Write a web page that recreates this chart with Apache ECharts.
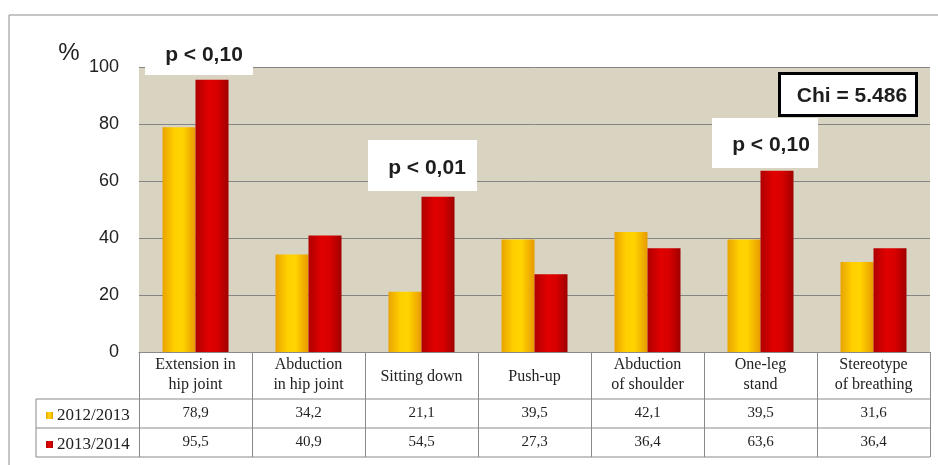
<!DOCTYPE html>
<html>
<head>
<meta charset="utf-8">
<script src="https://cdn.jsdelivr.net/npm/echarts@6/dist/echarts.min.js"></script>
<style>
html,body{margin:0;padding:0;background:#fff;}
#main{width:938px;height:465px;}
</style>
</head>
<body>
<div id="main"></div>
<script>
var categories = ['Extension in\nhip joint', 'Abduction\nin hip joint', 'Sitting down', 'Push-up', 'Abduction\nof shoulder', 'One-leg\nstand', 'Stereotype\nof breathing'];
var series2012 = [78.9, 34.2, 21.1, 39.5, 42.1, 39.5, 31.6];
var series2013 = [95.5, 40.9, 54.5, 27.3, 36.4, 63.6, 36.4];
var seriesNames = ['2012/2013', '2013/2014'];
var yTicks = [0, 20, 40, 60, 80, 100];

var GL = 139, GR = 8, GT = 67, GB = 113;
var W = 938, H = 465;
var tableTop = H - GB;
var rowY = [tableTop + 47, tableTop + 76, tableTop + 105];
var tableLeft = 36, tableRight = W - GR;

function fmtNum(v) { return v.toFixed(1).replace('.', ','); }

var chart = echarts.init(document.getElementById('main'), null, {renderer: 'canvas'});

var yellowGrad = new echarts.graphic.LinearGradient(0, 0, 1, 0, [
  {offset: 0, color: '#e9a300'},
  {offset: 0.35, color: '#ffcf00'},
  {offset: 0.6, color: '#ffd400'},
  {offset: 1, color: '#e89a00'}
]);
var redGrad = new echarts.graphic.LinearGradient(0, 0, 1, 0, [
  {offset: 0, color: '#b00000'},
  {offset: 0.4, color: '#e10000'},
  {offset: 0.65, color: '#d80000'},
  {offset: 1, color: '#a00000'}
]);

var serif = '"Liberation Serif", "DejaVu Serif", serif';
var sans = '"Liberation Sans", Arial, sans-serif';

var option = {
  animation: false,
  backgroundColor: '#ffffff',
  grid: {left: GL, right: GR, top: GT, bottom: GB, show: true, backgroundColor: '#d9d4c2', borderWidth: 0},
  legend: {
    orient: 'vertical',
    left: 41, top: tableTop + 50,
    itemWidth: 7, itemHeight: 7, itemGap: 12,
    icon: 'rect',
    textStyle: {fontFamily: serif, fontSize: 17, color: '#222', lineHeight: 17, padding: [0,0,0,-1]},
    data: seriesNames
  },
  xAxis: {
    type: 'category',
    data: categories,
    axisLine: {show: true, lineStyle: {color: '#8a8a8a', width: 1}},
    axisTick: {show: true, alignWithLabel: false, length: rowY[2] - tableTop, interval: 0, lineStyle: {color: '#8a8a8a'}},
    axisLabel: {
      interval: 0, margin: 3, color: '#222', fontFamily: serif,
      formatter: function (val, idx) {
        var lines = val.split('\n');
        var head;
        if (lines.length === 2) head = '{h|' + lines[0] + '}\n{h|' + lines[1] + '}\n{s| }';
        else head = '{h2|' + lines[0] + '}';
        return head + '\n{v|' + fmtNum(series2012[idx]) + '}\n{v|' + fmtNum(series2013[idx]) + '}';
      },
      rich: {
        h: {fontFamily: serif, fontSize: 16, lineHeight: 20, color: '#222'},
        s: {fontSize: 4, lineHeight: 4},
        h2: {fontFamily: serif, fontSize: 16, lineHeight: 44, color: '#222'},
        v: {fontFamily: serif, fontSize: 15, lineHeight: 29, color: '#222'}
      }
    }
  },
  yAxis: {
    type: 'value', min: 0, max: 100, interval: 20,
    axisLine: {show: false}, axisTick: {show: false},
    axisLabel: {margin: 20, fontFamily: sans, fontSize: 18, color: '#222',
      formatter: function (v) { return yTicks.indexOf(v) >= 0 ? String(v) : ''; }},
    splitLine: {show: true, lineStyle: {color: '#858585', width: 1}}
  },
  series: [
    {name: seriesNames[0], type: 'bar', data: series2012, barWidth: 33, barGap: '0%',
     itemStyle: {color: yellowGrad}},
    {name: seriesNames[1], type: 'bar', data: series2013, barWidth: 33, barGap: '0%',
     itemStyle: {color: redGrad}}
  ],
  graphic: [
    {type: 'rect', shape: {x: 9, y: 15, width: 960, height: 480}, style: {fill: 'none', stroke: '#8c8c8c', lineWidth: 1}, z: 0, silent: true},
    {type: 'line', shape: {x1: tableLeft, y1: rowY[0], x2: tableRight, y2: rowY[0]}, style: {stroke: '#8a8a8a', lineWidth: 1}},
    {type: 'line', shape: {x1: tableLeft, y1: rowY[1], x2: tableRight, y2: rowY[1]}, style: {stroke: '#8a8a8a', lineWidth: 1}},
    {type: 'line', shape: {x1: tableLeft, y1: rowY[2], x2: tableRight, y2: rowY[2]}, style: {stroke: '#8a8a8a', lineWidth: 1}},
    {type: 'line', shape: {x1: tableLeft, y1: rowY[0], x2: tableLeft, y2: rowY[2]}, style: {stroke: '#8a8a8a', lineWidth: 1}},
    {type: 'text', x: 69, y: 53, style: {text: '%', font: '24px ' + sans, fill: '#222', align: 'center', verticalAlign: 'middle'}},
    {type: 'rect', shape: {x: 145, y: 42, width: 108, height: 33}, style: {fill: '#ffffff'}, z: 10},
    {type: 'text', x: 204, y: 55, style: {text: 'p < 0,10', font: 'bold 21px ' + sans, fill: '#1e1e1e', align: 'center', verticalAlign: 'middle'}, z: 11},
    {type: 'rect', shape: {x: 368, y: 140, width: 109, height: 51}, style: {fill: '#ffffff'}, z: 10},
    {type: 'text', x: 427, y: 168, style: {text: 'p < 0,01', font: 'bold 21px ' + sans, fill: '#1e1e1e', align: 'center', verticalAlign: 'middle'}, z: 11},
    {type: 'rect', shape: {x: 712, y: 118, width: 106, height: 50}, style: {fill: '#ffffff'}, z: 10},
    {type: 'text', x: 771, y: 145, style: {text: 'p < 0,10', font: 'bold 21px ' + sans, fill: '#1e1e1e', align: 'center', verticalAlign: 'middle'}, z: 11},
    {type: 'rect', shape: {x: 779.5, y: 73.5, width: 137, height: 42}, style: {fill: '#ffffff', stroke: '#000000', lineWidth: 3}, z: 10},
    {type: 'text', x: 852, y: 96, style: {text: 'Chi = 5.486', font: 'bold 21px ' + sans, fill: '#1e1e1e', align: 'center', verticalAlign: 'middle'}, z: 11}
  ]
};
chart.setOption(option);
</script>
</body>
</html>
